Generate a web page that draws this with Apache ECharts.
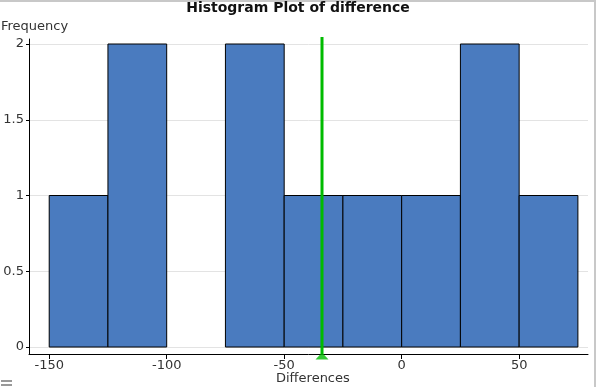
<!DOCTYPE html>
<html><head><meta charset="utf-8">
<script src="https://cdn.jsdelivr.net/npm/echarts@6/dist/echarts.min.js"></script>
<style>html,body{margin:0;padding:0;background:#fff}#c{width:596px;height:387px}</style>
</head><body><div id="c"></div>
<script>
const binEdges = [-150, -125, -100, -75, -50, -25, 0, 25, 50, 75];
const counts = [1, 2, 0, 2, 1, 1, 1, 2, 1];
const xTicks = [-150, -100, -50, 0, 50];
const yTicks = [0, 0.5, 1, 1.5, 2];
const refValue = -33.9;
const refLineY = [-0.046, 2.046];

const FONT = 'DejaVu Sans';
const bins = counts.map((c, i) => [binEdges[i], binEdges[i + 1], c]);

const chart = echarts.init(document.getElementById('c'), null, { renderer: 'canvas' });
chart.setOption({
  animation: false,
  backgroundColor: '#fff',
  title: [
    { text: 'Histogram Plot of difference', left: 'center', top: 0, padding: [1, 0, 0, 0],
      textStyle: { fontFamily: FONT, fontSize: 14, fontWeight: 'bold', color: '#111' } },
    { text: 'Frequency', left: 1, top: 20, padding: 0,
      textStyle: { fontFamily: FONT, fontSize: 13, fontWeight: 'normal', color: '#333' } },
    { text: 'Differences', left: 276, top: 372, padding: 0,
      textStyle: { fontFamily: FONT, fontSize: 13, fontWeight: 'normal', color: '#333' } }
  ],
  grid: { left: 29, right: 8, top: 39, bottom: 33, containLabel: false },
  xAxis: {
    type: 'value', min: -158.6, max: 79.3,
    axisLine: { show: true, onZero: false, lineStyle: { color: '#000', width: 1 } },
    axisTick: { show: true, length: 5, customValues: xTicks, lineStyle: { color: '#000' } },
    axisLabel: { customValues: xTicks, margin: 5, fontFamily: FONT, fontSize: 13, color: '#333' },
    splitLine: { show: false }
  },
  yAxis: {
    type: 'value', min: -0.046, max: 2.033,
    axisLine: { show: true, onZero: false, lineStyle: { color: '#000', width: 1 } },
    axisTick: { show: true, length: 3, customValues: yTicks, lineStyle: { color: '#000' } },
    axisLabel: { customValues: yTicks, margin: 5, fontFamily: FONT, fontSize: 13, color: '#333' },
    splitLine: { show: false }
  },
  series: [
    {
      type: 'line', data: [], z: 0, silent: true,
      markLine: {
        z: 0, silent: true, symbol: ['none', 'none'], label: { show: false },
        lineStyle: { color: '#e3e3e3', width: 1, type: 'solid' },
        data: yTicks.map(v => ({ yAxis: v }))
      }
    },
    {
      type: 'custom', z: 4,
      data: bins,
      encode: { x: [0, 1], y: 2 },
      renderItem: function (params, api) {
        const c = api.value(2);
        if (!c) return null;
        const p0 = api.coord([api.value(0), c]);
        const p1 = api.coord([api.value(1), 0]);
        return {
          type: 'rect',
          shape: { x: p0[0], y: p0[1], width: p1[0] - p0[0], height: p1[1] - p0[1] },
          style: { fill: '#4a7bbf', stroke: '#000', lineWidth: 1 }
        };
      }
    },
    {
      type: 'line', z: 6, clip: false, silent: true, showSymbol: false,
      data: refLineY.map(y => [refValue, y]),
      lineStyle: { color: '#00bb00', width: 3 }
    },
    {
      type: 'scatter', z: 7, clip: false, silent: true,
      data: [[refValue, refLineY[0]]],
      symbol: 'triangle', symbolSize: [13, 7], symbolOffset: [0, 2],
      itemStyle: { color: '#00bb00' }
    }
  ],
  graphic: [
    { type: 'rect', shape: { x: 0, y: 0, width: 596, height: 2 }, style: { fill: '#c8c8c8' }, silent: true },
    { type: 'rect', shape: { x: 594, y: 0, width: 2, height: 387 }, style: { fill: '#c8c8c8' }, silent: true },
    { type: 'rect', shape: { x: 1, y: 380, width: 11, height: 2 }, style: { fill: '#999' }, silent: true },
    { type: 'rect', shape: { x: 1, y: 384, width: 11, height: 2 }, style: { fill: '#999' }, silent: true }
  ]
});
</script>
</body></html>
